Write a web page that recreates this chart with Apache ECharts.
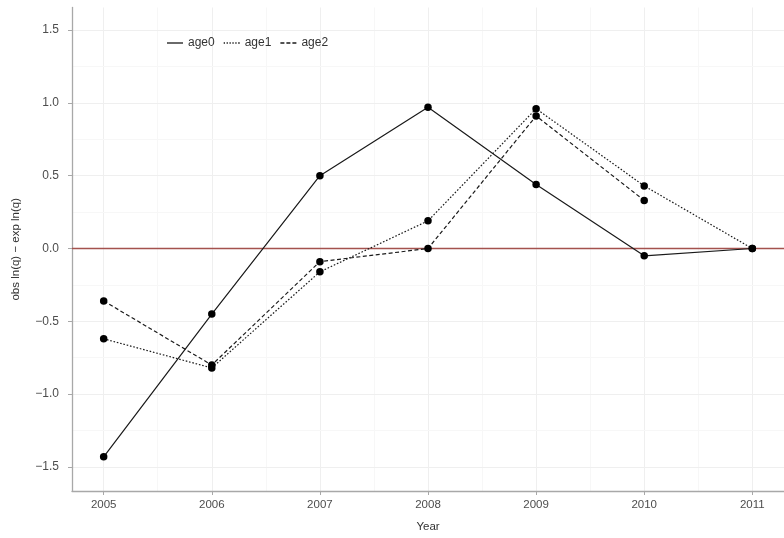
<!DOCTYPE html>
<html>
<head>
<meta charset="utf-8">
<script src="https://cdn.jsdelivr.net/npm/echarts@6/dist/echarts.min.js"></script>
<style>
html,body{margin:0;padding:0;background:#fff;}
#chart{width:784px;height:538px;}
</style>
</head>
<body>
<div id="chart"></div>
<script>
// ---- data ----
const years = [2005, 2006, 2007, 2008, 2009, 2010, 2011];
const age0 = [-1.43, -0.45, 0.50, 0.97, 0.44, -0.05, 0.00];
const age1 = [-0.62, -0.82, -0.16, 0.19, 0.96, 0.43, 0.00];
const age2 = [-0.36, -0.80, -0.09, 0.00, 0.91, 0.33, null];
const seriesNames = ['age0', 'age1', 'age2'];
const yTicks = [-1.5, -1.0, -0.5, 0.0, 0.5, 1.0, 1.5];
const yMinor = [-1.25, -0.75, -0.25, 0.25, 0.75, 1.25];
const xMinor = [2005.5, 2006.5, 2007.5, 2008.5, 2009.5, 2010.5];
const refLine = 0;

const xMin = 2004.707, xMax = 2011.293;
const yMin = -1.665, yMax = 1.655;

const font = 'Liberation Sans, Arial, Helvetica, sans-serif';
const pair = arr => years.map((y, i) => [y, arr[i]]);

const gridLines = [];
years.forEach(v => gridLines.push({xAxis: v, lineStyle: {color: '#efefef', width: 1, type: 'solid'}}));
xMinor.forEach(v => gridLines.push({xAxis: v, lineStyle: {color: '#f7f7f7', width: 1, type: 'solid'}}));
yTicks.forEach(v => gridLines.push({yAxis: v, lineStyle: {color: '#efefef', width: 1, type: 'solid'}}));
yMinor.forEach(v => gridLines.push({yAxis: v, lineStyle: {color: '#f7f7f7', width: 1, type: 'solid'}}));
gridLines.push({yAxis: yMax, lineStyle: {color: '#e8e8e8', width: 1, type: 'solid'}});

const styles = {
  age0: 'solid',
  age1: [1.6, 1.8],
  age2: [4, 2.5]
};
const legendIcons = {
  age0: 'path://M0,0h16v1.3h-16z',
  age1: 'path://M0,0h1.3v1.3h-1.3z M2.9,0h1.3v1.3h-1.3z M5.8,0h1.3v1.3h-1.3z M8.7,0h1.3v1.3h-1.3z M11.6,0h1.3v1.3h-1.3z M14.5,0h1.5v1.3h-1.5z',
  age2: 'path://M0,0h4v1.3h-4z M6,0h4v1.3h-4z M12,0h4v1.3h-4z'
};

const dataMap = {age0: age0, age1: age1, age2: age2};

const series = [{
  name: '_grid',
  type: 'line',
  data: [],
  silent: true,
  z: 0,
  markLine: {
    silent: true,
    z: 0,
    symbol: 'none',
    label: {show: false},
    animation: false,
    data: gridLines
  }
}, {
  name: '_ref',
  type: 'line',
  data: [],
  silent: true,
  z: 1,
  markLine: {
    silent: true,
    z: 1,
    symbol: 'none',
    label: {show: false},
    animation: false,
    data: [{yAxis: refLine, lineStyle: {color: '#a4524e', width: 1.3, type: 'solid'}}]
  }
}];
seriesNames.forEach(n => {
  series.push({
    name: n,
    type: 'line',
    data: pair(dataMap[n]),
    connectNulls: false,
    symbol: 'circle',
    symbolSize: 7.5,
    z: 3,
    itemStyle: {color: '#000', borderWidth: 0},
    lineStyle: {color: '#1a1a1a', width: 1.2, type: styles[n]},
    animation: false
  });
});

const chart = echarts.init(document.getElementById('chart'), null, {renderer: 'canvas'});
chart.setOption({
  backgroundColor: '#ffffff',
  animation: false,
  textStyle: {fontFamily: font},
  grid: {left: 72, right: -7, top: 7.5, bottom: 47, containLabel: false},
  legend: {
    data: seriesNames.map(n => ({name: n, icon: legendIcons[n], itemStyle: {color: '#1a1a1a'}})),
    left: 162,
    top: 32,
    itemWidth: 16,
    itemHeight: 1.3,
    itemGap: 9,
    textStyle: {fontFamily: font, fontSize: 12, color: '#333'},
    selectedMode: false
  },
  xAxis: {
    type: 'value',
    min: xMin,
    max: xMax,
    name: 'Year',
    nameLocation: 'middle',
    nameGap: 30,
    nameTextStyle: {fontFamily: font, fontSize: 11.5, color: '#333'},
    axisLine: {show: true, onZero: false, lineStyle: {color: '#a8a8a8', width: 1.3}},
    axisTick: {show: true, length: 4, customValues: years, lineStyle: {color: '#a8a8a8', width: 1}},
    axisLabel: {show: true, customValues: years, margin: 8, fontSize: 11.5, color: '#4d4d4d', fontFamily: font,
      formatter: v => String(Math.round(v))},
    splitLine: {show: false}
  },
  yAxis: {
    type: 'value',
    min: yMin,
    max: yMax,
    name: 'obs ln(q) \u2212 exp ln(q)',
    nameLocation: 'middle',
    nameRotate: 90,
    nameGap: 50,
    nameTextStyle: {fontFamily: font, fontSize: 11.5, color: '#333'},
    axisLine: {show: true, onZero: false, lineStyle: {color: '#a8a8a8', width: 1.3}},
    axisTick: {show: true, length: 4, customValues: yTicks, lineStyle: {color: '#a8a8a8', width: 1}},
    axisLabel: {show: true, customValues: yTicks, margin: 13, fontSize: 12, color: '#4d4d4d', fontFamily: font,
      formatter: v => (v < 0 ? '\u2212' : '') + Math.abs(v).toFixed(1)},
    splitLine: {show: false}
  },
  series: series
});
</script>
</body>
</html>
